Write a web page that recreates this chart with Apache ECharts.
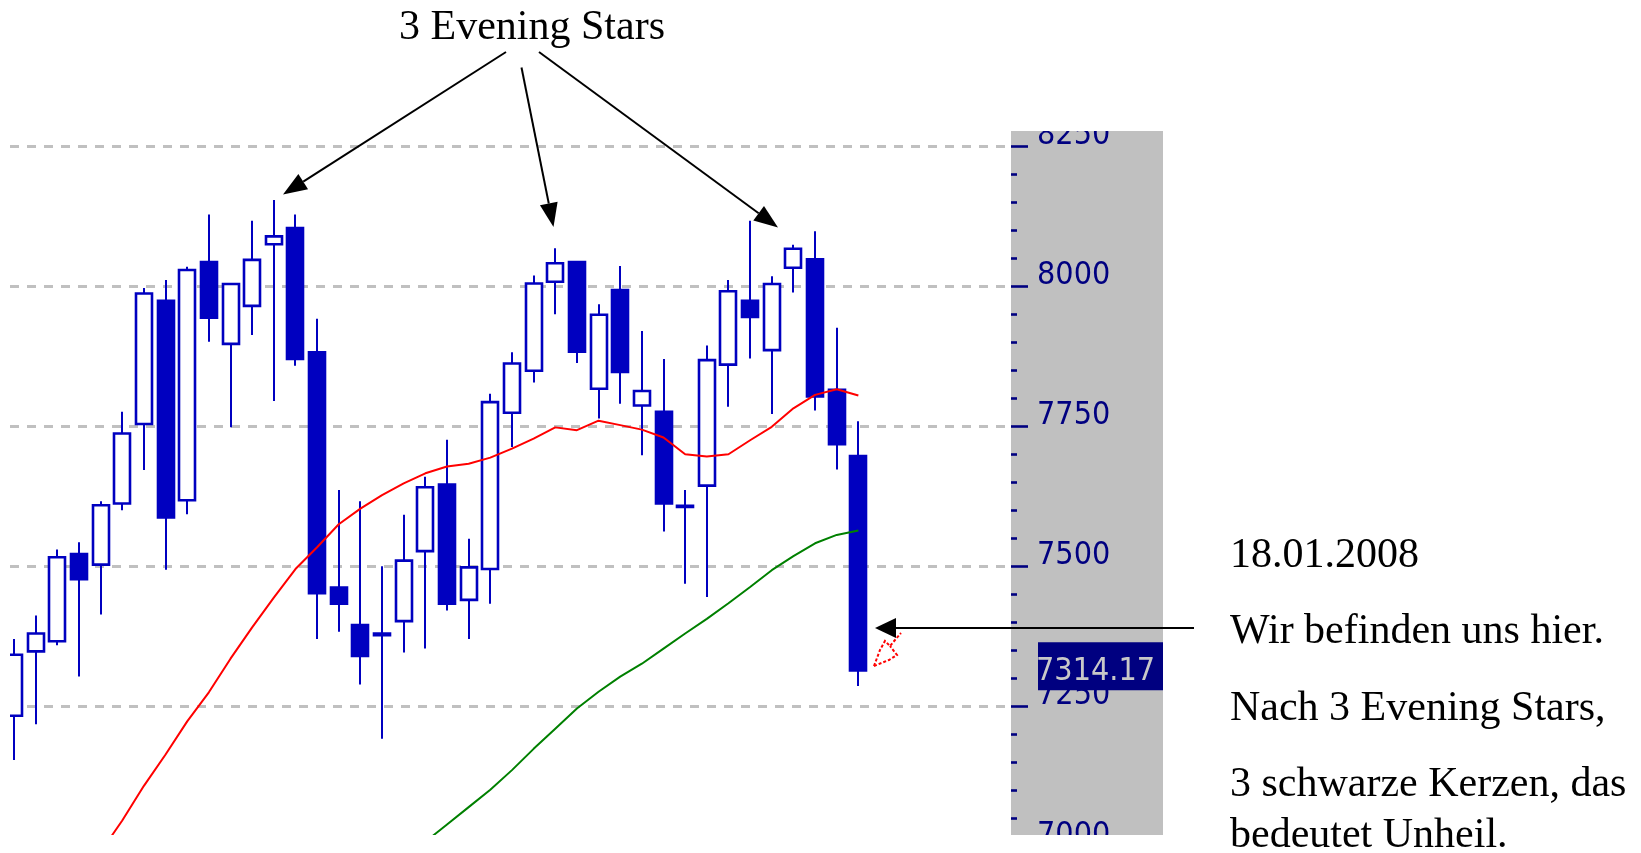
<!DOCTYPE html>
<html>
<head>
<meta charset="utf-8">
<script src="https://cdn.jsdelivr.net/npm/echarts@6/dist/echarts.min.js"></script>
<style>
html,body{margin:0;padding:0;background:#fff;}
#chart{width:1641px;height:853px;}
</style>
</head>
<body>
<div id="chart"></div>
<script>
// ---- data (DAX daily candles, last = 18.01.2008) ----
const opens  = [7233,7348,7366,7522,7503,7612,7754,7974,7618,8043,7897,7965,8075,8104,7882,7462,7395,7380,7402,7527,7646,7440,7495,7774,7849,8008,8043,7817,7993,7787,7776,7608,7644,7860,7974,7886,8033,8048,7815,7697];
const closes = [7342,7380,7516,7477,7609,7737,7987,7587,8029,7944,8004,8047,8089,7870,7452,7433,7340,7377,7510,7641,7433,7498,7793,7862,8005,8041,7883,7949,7847,7813,7612,7606,7868,7991,7945,8004,8067,7803,7718,7314.17];
const lows   = [7154,7218,7359,7303,7414,7600,7672,7494,7593,7901,7748,7913,7795,7858,7370,7383,7289,7192,7346,7353,7421,7370,7433,7713,7828,7950,7863,7764,7790,7698,7562,7469,7445,7785,7871,7772,7989,7778,7673,7286];
const highs  = [7370,7412,7530,7543,7616,7776,7997,8011,8035,8128,8004,8117,8154,8128,7942,7636,7616,7500,7592,7660,7726,7549,7808,7882,8019,8068,8043,7968,8036,7920,7870,7636,7894,8011,8117,8018,8074,8098,7926,7759];
// red moving average (null = below visible range)
const maRed = [null,null,null,null,6990,7046,7108,7164,7223,7275,7335,7391,7444,7495,7534,7575,7603,7627,7648,7666,7678,7683,7694,7710,7728,7748,7743,7760,7752,7744,7730,7700,7696,7700,7725,7749,7782,7806,7816,7805];
// green moving average
const maGreen = [null,null,null,null,null,null,null,null,null,null,null,null,null,null,null,null,null,null,null,7008,7039,7070,7101,7136,7174,7210,7246,7276,7303,7326,7353,7380,7406,7434,7463,7493,7518,7541,7556,7564];
const yTickValues = [7000,7250,7500,7750,8000,8250,8500];
const lastPrice = 7314.17;
const titleText = '3 Evening Stars';
const noteLines = ['18.01.2008','Wir befinden uns hier.','Nach 3 Evening Stars,','3 schwarze Kerzen, das','bedeutet Unheil.'];

const BLUE = '#0000c0';
const NAVY = '#000080';
const AXIS_FONT = "'Liberation Sans Narrow', 'DejaVu Sans Condensed', 'Liberation Sans', sans-serif";
const SERIF = "'Liberation Serif', 'Times New Roman', serif";

const candleData = opens.map((o, i) => [i, o, closes[i], lows[i], highs[i]]);
const toLine = arr => arr.map((v, i) => [i, v]).filter(p => p[1] !== null);

function renderCandle(params, api) {
  const i = api.value(0), o = api.value(1), c = api.value(2), l = api.value(3), h = api.value(4);
  const pO = api.coord([i, o]), pC = api.coord([i, c]), pL = api.coord([i, l]), pH = api.coord([i, h]);
  const w = api.size([1, 0])[0] * 0.74;
  const x = Math.round(pO[0]);
  const top = Math.min(pO[1], pC[1]), bot = Math.max(pO[1], pC[1]);
  const bull = c >= o;
  return {
    type: 'group',
    children: [
      {type: 'line', shape: {x1: x, y1: pH[1], x2: x, y2: pL[1]}, style: {stroke: BLUE, lineWidth: 2}},
      {type: 'rect', shape: {x: Math.round(x - w / 2), y: top, width: Math.round(w), height: Math.max(bot - top, 0.5)},
       style: {fill: bull ? '#ffffff' : BLUE, stroke: BLUE, lineWidth: 2.6}}
    ]
  };
}

const chart = echarts.init(document.getElementById('chart'), null, {renderer: 'canvas'});
const option = {
  animation: false,
  backgroundColor: '#ffffff',
  grid: {left: 10, right: 630, top: 6.2, bottom: 6.7},
  xAxis: {type: 'value', min: -0.185, max: 46.05, show: false, splitLine: {show: false}},
  yAxis: {
    type: 'value', position: 'right',
    min: yTickValues[0], max: yTickValues[yTickValues.length - 1], interval: 250,
    axisLine: {show: false, onZero: false},
    axisTick: {show: true, inside: false, length: 17, lineStyle: {color: NAVY, width: 2.6}},
    minorTick: {show: true, splitNumber: 5, length: 6, lineStyle: {color: NAVY, width: 2.6}},
    splitLine: {show: true, lineStyle: {color: '#c0c0c0', width: 3, type: [9, 8]}},
    axisLabel: {
      margin: 26, color: NAVY, fontSize: 32, fontFamily: AXIS_FONT,
      verticalAlign: 'bottom', lineHeight: 22, showMaxLabel: false,
      formatter: v => String(v)
    }
  },
  series: [
    {type: 'custom', name: 'Kerzen', renderItem: renderCandle, data: candleData, clip: true,
     encode: {x: 0, y: [1, 2, 3, 4]}, silent: true, z: 2},
    {type: 'line', name: 'MA rot', data: toLine(maRed), symbol: 'none', silent: true, z: 3,
     lineStyle: {color: '#ff0000', width: 2}},
    {type: 'line', name: 'MA gruen', data: toLine(maGreen), symbol: 'none', silent: true, z: 3,
     lineStyle: {color: '#008000', width: 2}}
  ]
};
chart.setOption(option);

function arrow(x1, y1, x2, y2, len, half) {
  const dx = x2 - x1, dy = y2 - y1, d = Math.hypot(dx, dy);
  const ux = dx / d, uy = dy / d;
  const bx = x2 - ux * len, by = y2 - uy * len;
  return [
    {type: 'line', z: 100, shape: {x1: x1, y1: y1, x2: bx, y2: by}, style: {stroke: '#000', lineWidth: 2}},
    {type: 'polygon', z: 100, shape: {points: [[x2, y2], [bx - uy * half, by + ux * half], [bx + uy * half, by - ux * half]]},
     style: {fill: '#000'}}
  ];
}

const yLast = chart.convertToPixel({yAxisIndex: 0}, lastPrice);
const noteBaselines = [570, 646, 723, 799, 850];
const elements = [
  {type: 'rect', z: -1, shape: {x: 1011, y: 131, width: 152, height: 704}, style: {fill: '#c0c0c0'}},
  {type: 'rect', z: 50, shape: {x: 0, y: 0, width: 1163, height: 131}, style: {fill: '#ffffff'}},
  {type: 'rect', z: 50, shape: {x: 0, y: 835, width: 1163, height: 18}, style: {fill: '#ffffff'}},
  {type: 'rect', z: 60, shape: {x: 1038, y: yLast - 28, width: 125, height: 48}, style: {fill: NAVY}},
  {type: 'text', z: 61, x: 1036, y: yLast + 1, style: {text: lastPrice.toFixed(2), fill: '#c8c8c8', font: '32px ' + AXIS_FONT, verticalAlign: 'middle', align: 'left'}},
  {type: 'text', z: 100, x: 532, y: 28, style: {text: titleText, fill: '#000', font: '42px ' + SERIF, align: 'center', verticalAlign: 'middle'}},
  {type: 'polyline', z: 100, shape: {points: [[874,666],[880,650],[885,641],[890,646],[895,640],[901,633]]}, style: {stroke: '#ff0000', lineWidth: 2, lineDash: [3, 2], fill: null}},
  {type: 'polyline', z: 100, shape: {points: [[874,666],[889,660],[897,655],[890,646]]}, style: {stroke: '#ff0000', lineWidth: 2, lineDash: [3, 2], fill: null}}
];
noteLines.forEach((t, k) => {
  elements.push({type: 'text', z: 100, x: 1230, y: noteBaselines[k] - 14,
    style: {text: t, fill: '#000', font: '42px ' + SERIF, align: 'left', verticalAlign: 'middle'}});
});
elements.push(...arrow(506, 52, 283, 194.5, 24, 9));
elements.push(...arrow(521.5, 67.5, 553.5, 227, 24, 9));
elements.push(...arrow(539, 52, 778, 227.5, 24, 9));
elements.push(...arrow(1194, 628, 875, 628, 21, 10));
chart.setOption({graphic: {elements: elements}});
</script>
</body>
</html>
